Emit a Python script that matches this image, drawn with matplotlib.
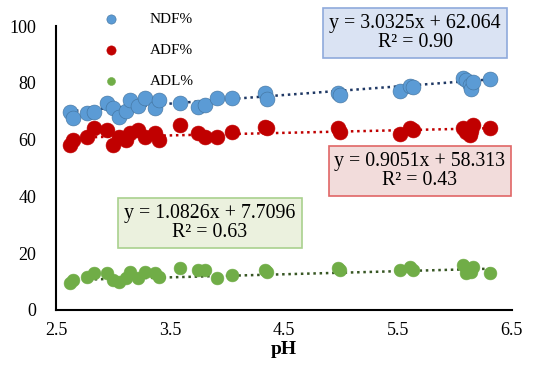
import numpy as np
import matplotlib.pyplot as plt

plt.rcParams['font.family'] = ['Liberation Serif', 'DejaVu Serif']

# pH values (shared by all three series)
ph = [2.62, 2.65, 2.77, 2.83, 2.95, 3.00, 3.05, 3.11, 3.15, 3.22, 3.28, 3.37,
      3.40, 3.59, 3.75, 3.81, 3.91, 4.04, 4.33, 4.35, 4.97, 4.99, 5.52, 5.61,
      5.63, 6.07, 6.10, 6.13, 6.14, 6.16, 6.31]

ndf = [69.8, 67.5, 69.3, 69.8, 72.8, 71.0, 68.0, 70.0, 74.0, 71.8, 74.5, 71.0,
       74.0, 72.8, 71.6, 72.2, 74.5, 74.5, 76.5, 74.2, 76.5, 75.7, 77.2, 78.9,
       78.4, 81.6, 81.0, 79.2, 78.0, 80.4, 81.4]

adf = [58.1, 59.9, 61.0, 64.0, 63.4, 58.1, 61.0, 59.9, 62.2, 63.4, 61.0, 62.2,
       59.9, 65.1, 62.2, 61.0, 61.0, 62.8, 64.6, 64.0, 64.0, 62.8, 62.0, 64.0,
       63.5, 64.0, 62.8, 61.6, 63.0, 65.0, 64.0]

adl = [9.4, 10.6, 11.7, 12.9, 12.9, 10.6, 10.0, 11.2, 13.5, 11.2, 13.5, 12.9,
       11.7, 14.7, 14.1, 14.1, 11.2, 12.3, 14.1, 13.5, 14.7, 14.2, 14.1, 15.3,
       14.1, 15.8, 12.9, 14.1, 13.5, 15.3, 12.9]

labels = ['NDF%', 'ADF%', 'ADL%']
fits = [(3.0325, 62.064), (0.9051, 58.313), (1.0826, 7.7096)]
eq_text = ['y = 3.0325x + 62.064\nR² = 0.90',
           'y = 0.9051x + 58.313\nR² = 0.43',
           'y = 1.0826x + 7.7096\nR² = 0.63']

fig = plt.figure(figsize=(5.36, 3.72), dpi=100)
ax = fig.add_axes([0.1045, 0.1667, 0.8505, 0.7633])

ax.scatter(ph, ndf, s=115, color='#5B9BD5', edgecolor='#41719C', linewidth=0.4,
           label=labels[0], zorder=3)
ax.scatter(ph, adf, s=115, color='#C00000', edgecolor='#C00000', linewidth=0.4,
           label=labels[1], zorder=3)
ax.scatter(ph, adl, s=85, color='#70AD47', edgecolor='#70AD47', linewidth=0.4,
           label=labels[2], zorder=3)

xs = np.array([min(ph), max(ph)])
line_colors = ['#1F3864', '#C00000', '#375623']
for (m, b), c in zip(fits, line_colors):
    ax.plot(xs, m * xs + b, linestyle=(0, (1, 1.5)), color=c, linewidth=1.8, zorder=2)

ax.set_xlim(2.5, 6.5)
ax.set_ylim(0, 100)
ax.set_xticks([2.5, 3.5, 4.5, 5.5, 6.5])
ax.set_yticks([0, 20, 40, 60, 80, 100])
ax.tick_params(length=0, labelsize=13)
ax.tick_params(axis='y', pad=14)
ax.tick_params(axis='x', pad=9)
for s in ['top', 'right']:
    ax.spines[s].set_visible(False)
for s in ['left', 'bottom']:
    ax.spines[s].set_linewidth(1.5)
ax.set_xlabel('pH', fontsize=14, fontweight='bold', labelpad=1)

leg = fig.legend(loc='upper left', bbox_to_anchor=(0.153, 1.005), frameon=False,
                 fontsize=11, labelspacing=1.15, handletextpad=1.55,
                 markerscale=0.62)

boxes = [((415, 33), '#DAE3F3', '#8FAADC'),
         ((420, 171), '#F2DCDB', '#E06666'),
         ((210, 223), '#EBF1DE', '#A9D18E')]
for txt, ((px, py), fc, ec) in zip(eq_text, boxes):
    fig.text(px / 536, 1 - py / 372, txt, ha='center', va='center', fontsize=14.3,
             linespacing=0.95,
             bbox=dict(boxstyle='square,pad=0.3', fc=fc, ec=ec, lw=1.2))

fig.savefig('out.png', dpi=100)
